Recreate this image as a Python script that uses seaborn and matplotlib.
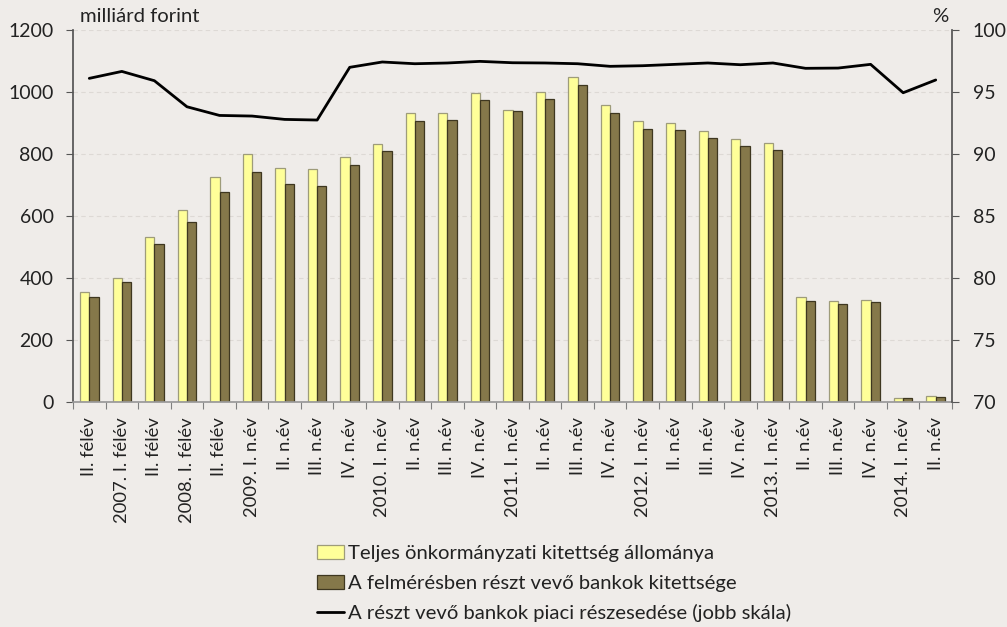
import numpy as np
import pandas as pd
import matplotlib
matplotlib.use("Agg")
import matplotlib.pyplot as plt
from matplotlib.patches import Patch
from matplotlib.lines import Line2D
from matplotlib.ticker import FixedLocator
import seaborn as sns

# Period keys (unique) and the tick labels drawn under them
periods = ["2006H2", "2007H1", "2007H2", "2008H1", "2008H2",
           "2009Q1", "2009Q2", "2009Q3", "2009Q4",
           "2010Q1", "2010Q2", "2010Q3", "2010Q4",
           "2011Q1", "2011Q2", "2011Q3", "2011Q4",
           "2012Q1", "2012Q2", "2012Q3", "2012Q4",
           "2013Q1", "2013Q2", "2013Q3", "2013Q4",
           "2014Q1", "2014Q2"]
tick_labels = ["II. félév", "2007. I. félév", "II. félév", "2008. I. félév", "II. félév",
               "2009. I. n.év", "II. n.év", "III. n.év", "IV. n.év",
               "2010. I. n.év", "II. n.év", "III. n.év", "IV. n.év",
               "2011. I. n.év", "II. n.év", "III. n.év", "IV. n.év",
               "2012. I. n.év", "II. n.év", "III. n.év", "IV. n.év",
               "2013. I. n.év", "II. n.év", "III. n.év", "IV. n.év",
               "2014. I. n.év", "II. n.év"]

# Exposure, billion HUF
total_exposure = [354, 401, 533, 619, 726, 799, 755, 751, 789, 833, 932, 933, 998, 942,
                  1001, 1049, 959, 907, 899, 874, 849, 835, 339, 326, 329, 14, 18]
bank_exposure = [340, 388, 509, 581, 677, 741, 703, 697, 765, 809, 907, 909, 973, 940,
                 976, 1021, 931, 882, 876, 851, 825, 813, 327, 316, 321, 14, 16]
# Market share of participating banks, % (right axis)
market_share = [96.1, 96.66, 95.91, 93.81, 93.11, 93.06, 92.79, 92.74, 96.99, 97.42,
                97.28, 97.34, 97.47, 97.36, 97.34, 97.28, 97.07, 97.12, 97.23, 97.34,
                97.20, 97.34, 96.91, 96.93, 97.23, 94.94, 95.97]

series_names = ["Teljes önkormányzati kitettség állománya",
                "A felmérésben részt vevő bankok kitettsége",
                "A részt vevő bankok piaci részesedése (jobb skála)"]

BG = "#EFECE9"
YELLOW = "#FFFF99"
DARK = "#85784A"
TXT = "#222222"

sns.set_theme(style="ticks")
plt.rcParams["font.family"] = ["Lato", "DejaVu Sans"]

df = pd.DataFrame({
    "period": periods * 2,
    "value": total_exposure + bank_exposure,
    "series": [series_names[0]] * len(periods) + [series_names[1]] * len(periods),
})

fig = plt.figure(figsize=(10.07, 6.27), dpi=100, facecolor=BG)
ax = fig.add_axes([73 / 1007, 1 - 402 / 627, (952 - 73) / 1007, (402 - 30) / 627])
ax.set_facecolor(BG)

sns.barplot(data=df, x="period", y="value", hue="series", order=periods,
            hue_order=series_names[:2], palette=[YELLOW, DARK], width=0.57,
            legend=False, ax=ax, saturation=1)
for bar in ax.containers[0]:
    bar.set_edgecolor("#9E9C7A")
    bar.set_linewidth(0.9)
for bar in ax.containers[1]:
    bar.set_edgecolor("#3E3720")
    bar.set_linewidth(0.9)

n = len(periods)
ax.set_xlim(-0.5, n - 0.5)
ax.set_ylim(0, 1200)
ax.set_yticks(np.arange(0, 1201, 200))
ax.yaxis.grid(True, color="#DDD9D5", linestyle=(0, (4, 3)), linewidth=0.8)
ax.set_axisbelow(True)
ax.set_xlabel("")
ax.set_ylabel("")

ax.set_xticks(np.arange(n))
ax.set_xticklabels(tick_labels, rotation=90, fontsize=13.2, color=TXT)
ax.tick_params(axis="x", which="major", length=0, pad=11)
ax.xaxis.set_minor_locator(FixedLocator(np.arange(-0.5, n, 1.0)))
ax.tick_params(axis="x", which="minor", length=5, width=0.8, color="#808080", direction="out")
ax.tick_params(axis="y", length=5, width=0.8, color="#555555", labelsize=14,
               labelcolor=TXT, pad=9)

for side in ["top", "right"]:
    ax.spines[side].set_visible(False)
ax.spines["left"].set_color("#555555")
ax.spines["bottom"].set_color("#999999")

# Market share on the right axis
ax2 = ax.twinx()
sns.lineplot(x=np.arange(n), y=market_share, ax=ax2, color="black", linewidth=2.0)
ax2.set_xlim(-0.5, n - 0.5)
ax2.set_ylim(70, 100)
ax2.set_yticks(np.arange(70, 101, 5))
ax2.tick_params(axis="y", length=5, width=0.8, color="#555555", labelsize=14,
                labelcolor=TXT, pad=10)
for side in ["top", "left", "bottom"]:
    ax2.spines[side].set_visible(False)
ax2.spines["right"].set_color("#555555")

fig.text(80 / 1007, 1 - 16 / 627, "milliárd forint", fontsize=14.6, color=TXT,
         ha="left", va="center")
fig.text(940 / 1007, 1 - 16 / 627, "%", fontsize=14.6, color=TXT,
         ha="center", va="center")

handles = [
    Patch(facecolor=YELLOW, edgecolor="#9E9C7A", linewidth=0.9),
    Patch(facecolor=DARK, edgecolor="#3E3720", linewidth=0.9),
    Line2D([0], [0], color="black", linewidth=2.0),
]
fig.legend(handles, series_names, loc="upper left", bbox_to_anchor=(307 / 1007, 1 - 535 / 627),
           frameon=False, fontsize=14.6, handlelength=1.3, handletextpad=0.2,
           labelspacing=0.6, borderpad=0, labelcolor=TXT)

fig.savefig("out.png", dpi=100, facecolor=BG)
